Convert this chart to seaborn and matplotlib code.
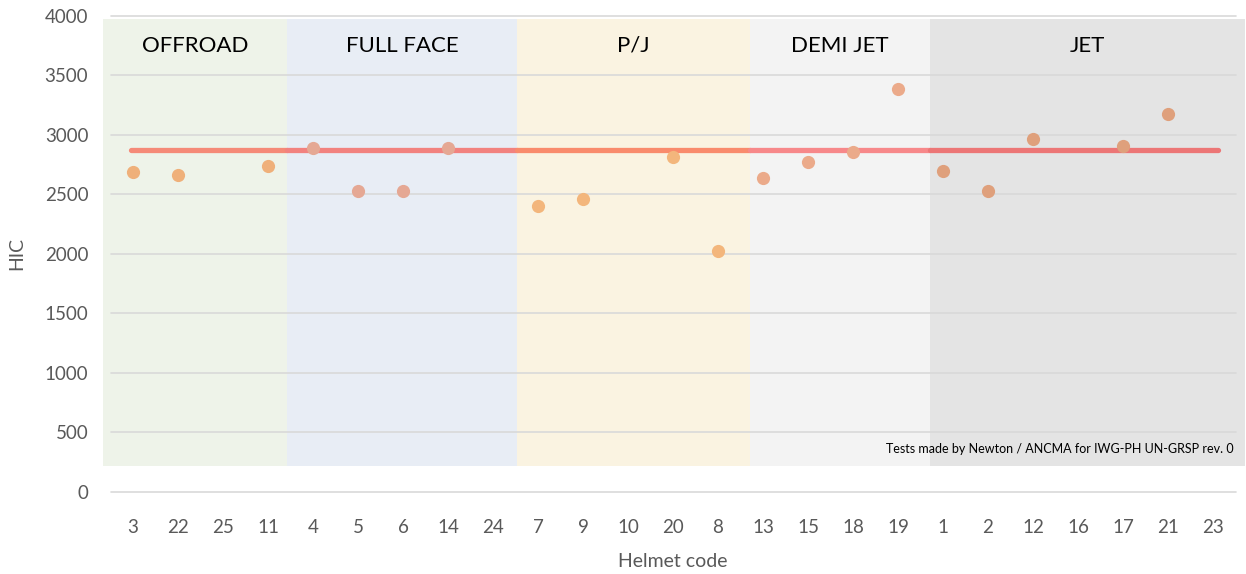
import numpy as np
import pandas as pd
import matplotlib.pyplot as plt
import seaborn as sns

# helmet codes on the x axis, grouped by helmet type
codes = ["3", "22", "25", "11", "4", "5", "6", "14", "24", "7", "9", "10", "20", "8",
         "13", "15", "18", "19", "1", "2", "12", "16", "17", "21", "23"]
groups = ["OFFROAD"] * 4 + ["FULL FACE"] * 5 + ["P/J"] * 5 + ["DEMI JET"] * 4 + ["JET"] * 7
hic = [2690, 2665, np.nan, 2740, 2890, 2530, 2530, 2890, np.nan, 2405, 2465, np.nan, 2815, 2025,
       2635, 2770, 2860, 3390, 2695, 2525, 2965, np.nan, 2905, 3180, np.nan]
hic_limit = 2875

group_names = ["OFFROAD", "FULL FACE", "P/J", "DEMI JET", "JET"]
band_edges = [-0.67, 3.42, 8.54, 13.7, 17.7, 24.72]
band_colors = ["#EEF3E9", "#E8EDF5", "#FAF3E1", "#F3F3F3", "#E4E4E4"]
dot_colors = ["#EFB07A", "#E5A894", "#F3B67C", "#EBAA8A", "#DFA07C"]
line_colors = ["#F58A78", "#F2827F", "#F98B6C", "#F7888A", "#EC7676"]

df = pd.DataFrame({"code": codes, "group": groups, "HIC": hic})

sns.set_style("white")
plt.rcParams["font.family"] = ["Lato", "DejaVu Sans"]
grey = "#595959"

fig = plt.figure(figsize=(12.46, 5.74), dpi=100)
ax = fig.add_axes([0.0887, 0.1434, 0.9029, 0.8287])

# coloured background bands with their titles
for i, name in enumerate(group_names):
    ax.axvspan(band_edges[i], band_edges[i + 1], ymin=219 / 4000, ymax=3975 / 4000,
               color=band_colors[i], zorder=0, clip_on=False, lw=0)
    ax.text((band_edges[i] + band_edges[i + 1]) / 2, 3750, name, ha="center", va="center",
            fontsize=16, color="black", zorder=3)

# limit line, coloured piece by piece
for i in range(5):
    x0 = max(band_edges[i], -0.05)
    x1 = min(band_edges[i + 1], 24.1)
    ax.plot([x0, x1], [hic_limit, hic_limit], color=line_colors[i], lw=3.8,
            solid_capstyle="round", zorder=2)

sns.stripplot(data=df, x="code", y="HIC", hue="group", order=codes, hue_order=group_names,
              palette=dict(zip(group_names, dot_colors)), jitter=False, size=9.5,
              linewidth=0, legend=False, ax=ax, zorder=4)

ax.set_xlim(-0.5, 24.5)
ax.set_ylim(0, 4000)
ax.set_yticks(range(0, 4001, 500))
ax.yaxis.grid(True, color="#D9D9D9", lw=1.2)
ax.set_axisbelow(False)
for line in ax.get_ygridlines():
    line.set_zorder(1)
    line.set_clip_on(False)
for s in ax.spines.values():
    s.set_visible(False)
ax.tick_params(axis="both", length=0, labelsize=13.5, colors=grey)
ax.tick_params(axis="x", pad=20)
ax.tick_params(axis="y", pad=16)
ax.set_xlabel("Helmet code", fontsize=14, color=grey, labelpad=12)
ax.set_ylabel("HIC", fontsize=14, color=grey, labelpad=14)

ax.text(24.45, 360, "Tests made by Newton / ANCMA for IWG-PH UN-GRSP rev. 0",
        ha="right", va="center", fontsize=9, color="black", zorder=3)

fig.savefig("out.png", dpi=100)
